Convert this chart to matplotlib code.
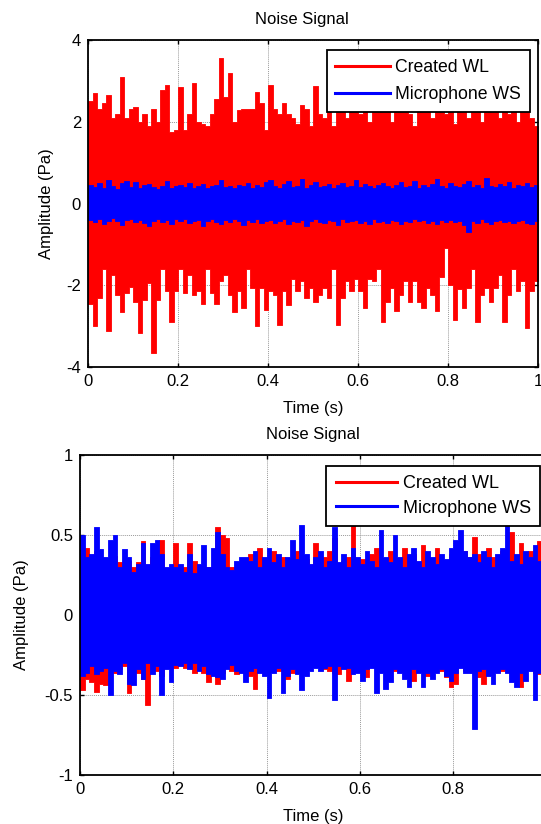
import numpy as np
import matplotlib
matplotlib.use("Agg")
import matplotlib.pyplot as plt
from matplotlib.lines import Line2D
from matplotlib.ticker import FuncFormatter

plt.rcParams['font.family'] = ['Liberation Sans', 'DejaVu Sans']
plt.rcParams['axes.unicode_minus'] = False

# envelope of each noise trace, read per 0.01 s bin (upper peak, lower peak)
top_red_up = [
    2.50, 2.70, 2.30, 2.45, 2.65, 2.10, 2.20, 3.10, 2.10, 2.30,
    2.35, 2.00, 2.20, 1.90, 2.30, 2.00, 2.78, 2.90, 1.75, 1.80,
    2.86, 1.80, 2.20, 2.95, 2.00, 1.95, 1.90, 2.20, 2.55, 3.55,
    2.60, 3.20, 2.00, 2.29, 2.30, 2.30, 2.30, 2.74, 2.45, 1.80,
    2.90, 2.30, 2.20, 2.45, 2.20, 2.10, 1.95, 2.41, 2.30, 1.90,
    2.88, 2.20, 2.10, 2.60, 1.90, 2.50, 2.30, 2.10, 2.60, 2.30,
    2.20, 2.40, 2.00, 2.50, 2.30, 2.35, 2.30, 2.00, 2.50, 2.40,
    2.60, 2.20, 1.90, 2.40, 2.70, 2.30, 2.10, 2.50, 2.80, 2.20,
    2.40, 1.95, 2.60, 2.30, 2.10, 2.70, 2.40, 2.00, 2.50, 2.30,
    2.60, 2.10, 2.40, 2.20, 2.70, 2.00, 2.30, 2.78, 2.10, 1.90]
top_red_lo = [
    -2.45, -3.00, -2.30, -1.60, -3.13, -1.75, -2.25, -2.65, -2.20, -2.05,
    -2.40, -3.17, -2.36, -1.95, -3.66, -2.36, -1.60, -2.15, -2.90, -2.15,
    -1.60, -2.20, -1.75, -2.25, -2.15, -2.45, -1.60, -2.20, -2.45, -1.90,
    -1.75, -2.23, -2.65, -2.15, -2.56, -1.60, -2.07, -3.00, -2.07, -2.60,
    -2.15, -2.23, -2.97, -2.15, -2.48, -1.85, -2.15, -1.90, -2.32, -2.07,
    -2.40, -2.23, -2.07, -2.32, -1.60, -2.97, -2.30, -1.90, -2.15, -1.85,
    -2.15, -2.56, -1.85, -1.90, -1.60, -2.89, -2.40, -2.07, -2.64, -2.23,
    -1.90, -2.40, -1.90, -2.40, -2.56, -2.07, -2.23, -2.64, -1.80, -1.10,
    -2.00, -2.85, -2.10, -2.56, -2.07, -1.60, -2.89, -2.23, -2.07, -2.40,
    -2.07, -1.75, -2.89, -2.23, -1.60, -2.15, -1.90, -3.05, -2.15, -1.90]
top_blue_up = [
    0.45, 0.40, 0.50, 0.38, 0.58, 0.42, 0.36, 0.50, 0.55, 0.40,
    0.52, 0.38, 0.45, 0.48, 0.40, 0.36, 0.43, 0.55, 0.38, 0.42,
    0.46, 0.40, 0.50, 0.37, 0.44, 0.48, 0.39, 0.42, 0.45, 0.57,
    0.40, 0.44, 0.38, 0.46, 0.42, 0.50, 0.38, 0.45, 0.40, 0.52,
    0.57, 0.43, 0.38, 0.47, 0.55, 0.41, 0.44, 0.60, 0.39, 0.46,
    0.52, 0.40, 0.43, 0.48, 0.37, 0.45, 0.50, 0.41, 0.44, 0.58,
    0.40, 0.47, 0.42, 0.38, 0.45, 0.50, 0.42, 0.38, 0.46, 0.52,
    0.40, 0.44, 0.56, 0.39, 0.45, 0.41, 0.48, 0.60, 0.42, 0.38,
    0.50, 0.44, 0.40, 0.47, 0.55, 0.41, 0.45, 0.38, 0.62, 0.43,
    0.40, 0.48, 0.44, 0.52, 0.39, 0.46, 0.42, 0.50, 0.40, 0.45]
top_blue_lo = [
    -0.40, -0.46, -0.38, -0.50, -0.42, -0.36, -0.44, -0.52, -0.40, -0.38,
    -0.45, -0.40, -0.48, -0.55, -0.42, -0.38, -0.46, -0.41, -0.50, -0.39,
    -0.44, -0.38, -0.47, -0.42, -0.40, -0.56, -0.43, -0.38, -0.45, -0.50,
    -0.41, -0.46, -0.39, -0.44, -0.52, -0.40, -0.45, -0.38, -0.48, -0.42,
    -0.40, -0.47, -0.44, -0.38, -0.50, -0.42, -0.46, -0.40, -0.55, -0.43,
    -0.39, -0.45, -0.48, -0.41, -0.44, -0.52, -0.38, -0.46, -0.42, -0.40,
    -0.47, -0.43, -0.50, -0.39, -0.45, -0.42, -0.48, -0.40, -0.44, -0.51,
    -0.42, -0.46, -0.39, -0.44, -0.40, -0.48, -0.43, -0.50, -0.41, -0.45,
    -0.40, -0.46, -0.44, -0.52, -0.69, -0.42, -0.47, -0.39, -0.45, -0.50,
    -0.43, -0.40, -0.46, -0.42, -0.48, -0.44, -0.40, -0.47, -0.50, -0.42]

bot_red_up = [
    0.39, 0.42, 0.30, 0.40, 0.36, 0.34, 0.30, 0.37, 0.33, 0.32,
    0.34, 0.30, 0.33, 0.46, 0.30, 0.36, 0.40, 0.47, 0.28, 0.27,
    0.45, 0.28, 0.30, 0.45, 0.34, 0.26, 0.30, 0.30, 0.30, 0.55,
    0.50, 0.48, 0.30, 0.30, 0.30, 0.33, 0.38, 0.30, 0.42, 0.33,
    0.30, 0.40, 0.32, 0.36, 0.30, 0.34, 0.40, 0.32, 0.35, 0.30,
    0.45, 0.33, 0.36, 0.40, 0.48, 0.30, 0.34, 0.36, 0.56, 0.32,
    0.35, 0.30, 0.38, 0.42, 0.34, 0.32, 0.40, 0.35, 0.30, 0.42,
    0.34, 0.38, 0.32, 0.44, 0.36, 0.30, 0.42, 0.34, 0.30, 0.38,
    0.35, 0.33, 0.40, 0.36, 0.49, 0.38, 0.34, 0.42, 0.36, 0.32,
    0.40, 0.36, 0.52, 0.33, 0.45, 0.36, 0.40, 0.34, 0.46, 0.36]
bot_red_lo = [
    -0.47, -0.40, -0.42, -0.48, -0.43, -0.44, -0.33, -0.36, -0.34, -0.32,
    -0.49, -0.35, -0.36, -0.40, -0.56, -0.33, -0.35, -0.38, -0.30, -0.30,
    -0.33, -0.31, -0.33, -0.33, -0.36, -0.32, -0.36, -0.42, -0.35, -0.43,
    -0.36, -0.33, -0.35, -0.37, -0.33, -0.36, -0.38, -0.46, -0.34, -0.36,
    -0.35, -0.33, -0.35, -0.34, -0.40, -0.36, -0.32, -0.35, -0.33, -0.30,
    -0.32, -0.30, -0.34, -0.35, -0.36, -0.37, -0.30, -0.41, -0.33, -0.30,
    -0.36, -0.39, -0.30, -0.33, -0.34, -0.33, -0.35, -0.35, -0.35, -0.33,
    -0.36, -0.41, -0.33, -0.35, -0.38, -0.34, -0.32, -0.35, -0.39, -0.45,
    -0.43, -0.32, -0.35, -0.34, -0.36, -0.39, -0.43, -0.35, -0.34, -0.35,
    -0.35, -0.30, -0.36, -0.36, -0.45, -0.33, -0.34, -0.36, -0.37, -0.33]
bot_blue_up = [
    0.50, 0.36, 0.38, 0.55, 0.41, 0.36, 0.47, 0.50, 0.30, 0.41,
    0.36, 0.27, 0.32, 0.45, 0.32, 0.45, 0.47, 0.38, 0.30, 0.32,
    0.30, 0.32, 0.27, 0.38, 0.26, 0.32, 0.44, 0.30, 0.42, 0.52,
    0.38, 0.30, 0.28, 0.34, 0.36, 0.36, 0.34, 0.40, 0.30, 0.36,
    0.42, 0.33, 0.38, 0.30, 0.36, 0.47, 0.35, 0.56, 0.38, 0.32,
    0.36, 0.40, 0.30, 0.34, 0.55, 0.33, 0.38, 0.30, 0.42, 0.36,
    0.32, 0.40, 0.34, 0.30, 0.53, 0.36, 0.33, 0.50, 0.36, 0.30,
    0.38, 0.42, 0.34, 0.30, 0.40, 0.36, 0.32, 0.38, 0.35, 0.42,
    0.47, 0.53, 0.40, 0.36, 0.38, 0.33, 0.40, 0.36, 0.30, 0.38,
    0.42, 0.58, 0.34, 0.38, 0.32, 0.40, 0.36, 0.44, 0.34, 0.38]
bot_blue_lo = [
    -0.38, -0.36, -0.32, -0.37, -0.35, -0.33, -0.50, -0.35, -0.37, -0.30,
    -0.43, -0.44, -0.34, -0.40, -0.30, -0.37, -0.32, -0.50, -0.34, -0.42,
    -0.31, -0.32, -0.30, -0.34, -0.30, -0.35, -0.32, -0.37, -0.38, -0.39,
    -0.40, -0.34, -0.31, -0.35, -0.36, -0.42, -0.35, -0.33, -0.36, -0.38,
    -0.52, -0.36, -0.33, -0.49, -0.38, -0.34, -0.37, -0.47, -0.38, -0.35,
    -0.33, -0.35, -0.33, -0.32, -0.53, -0.32, -0.34, -0.33, -0.37, -0.36,
    -0.41, -0.34, -0.33, -0.49, -0.36, -0.46, -0.42, -0.34, -0.36, -0.40,
    -0.45, -0.34, -0.36, -0.45, -0.36, -0.40, -0.36, -0.34, -0.38, -0.41,
    -0.36, -0.33, -0.36, -0.36, -0.71, -0.35, -0.34, -0.38, -0.43, -0.36,
    -0.34, -0.36, -0.42, -0.45, -0.36, -0.41, -0.35, -0.53, -0.36, -0.34]

labels = ['Created WL', 'Microphone WS']
colors = ['#ff0000', '#0000ff']


def draw_trace(ax, up, lo, c):
    # dense signal drawn as its per-bin min/max band
    n = len(up)
    t = np.arange(n + 1) / n
    hi = np.append(up, up[-1])
    low = np.append(lo, lo[-1])
    ax.fill_between(t, low, hi, step='post', color=c, lw=0.6, edgecolor=c)


def style(ax, yticks):
    ax.set_xlim(0, 1)
    ax.set_xticks([0, 0.2, 0.4, 0.6, 0.8, 1])
    ax.set_ylim(yticks[0], yticks[-1])
    ax.set_yticks(yticks)
    fmt = FuncFormatter(lambda v, p: '%g' % v)
    ax.xaxis.set_major_formatter(fmt)
    ax.yaxis.set_major_formatter(fmt)
    ax.tick_params(direction='in', length=3, width=1, top=True, right=True,
                   labelsize=12, pad=5)
    ax.set_axisbelow(True)
    ax.grid(True, color='#9a9a9a', linestyle=(0, (1, 1)), linewidth=0.7)
    for s in ax.spines.values():
        s.set_linewidth(1.3)
    ax.set_title('Noise Signal', fontsize=12, pad=11.5)
    ax.set_xlabel('Time (s)', fontsize=12, labelpad=8.5)


handles = [Line2D([], [], color=c, lw=2.2) for c in colors]
fig = plt.figure(figsize=(5.41, 8.24), dpi=100)

ax1 = fig.add_axes([88 / 541, 1 - 367 / 824, 450 / 541, 327 / 824])
draw_trace(ax1, top_red_up, top_red_lo, colors[0])
draw_trace(ax1, top_blue_up, top_blue_lo, colors[1])
style(ax1, [-4, -2, 0, 2, 4])
ax1.title.set_x(0.475)
fig.text(46 / 541, 1 - 204 / 824, 'Amplitude (Pa)', rotation=90, ha='center', va='center', fontsize=12)
leg = ax1.legend(handles, labels, loc='upper right', bbox_to_anchor=(530 / 541, 1 - 50 / 824),
                 bbox_transform=fig.transFigure, fontsize=12.7, fancybox=False, framealpha=1,
                 edgecolor='black', borderpad=0.5, handlelength=3.1, handletextpad=0.3,
                 labelspacing=0.6, borderaxespad=0)
leg.get_frame().set_linewidth(1.3)

ax2 = fig.add_axes([80 / 541, 1 - 775 / 824, 466.7 / 541, 320 / 824])
draw_trace(ax2, bot_red_up, bot_red_lo, colors[0])
draw_trace(ax2, bot_blue_up, bot_blue_lo, colors[1])
style(ax2, [-1, -0.5, 0, 0.5, 1])
fig.text(22 / 541, 1 - 615 / 824, 'Amplitude (Pa)', rotation=90, ha='center', va='center', fontsize=12)
leg = ax2.legend(handles, labels, loc='upper right', bbox_to_anchor=(540 / 541, 1 - 466 / 824),
                 bbox_transform=fig.transFigure, fontsize=13, fancybox=False, framealpha=1,
                 edgecolor='black', borderpad=0.5, handlelength=3.4, handletextpad=0.33,
                 labelspacing=0.42, borderaxespad=0)
leg.get_frame().set_linewidth(1.3)

fig.savefig('out.png', dpi=100)
